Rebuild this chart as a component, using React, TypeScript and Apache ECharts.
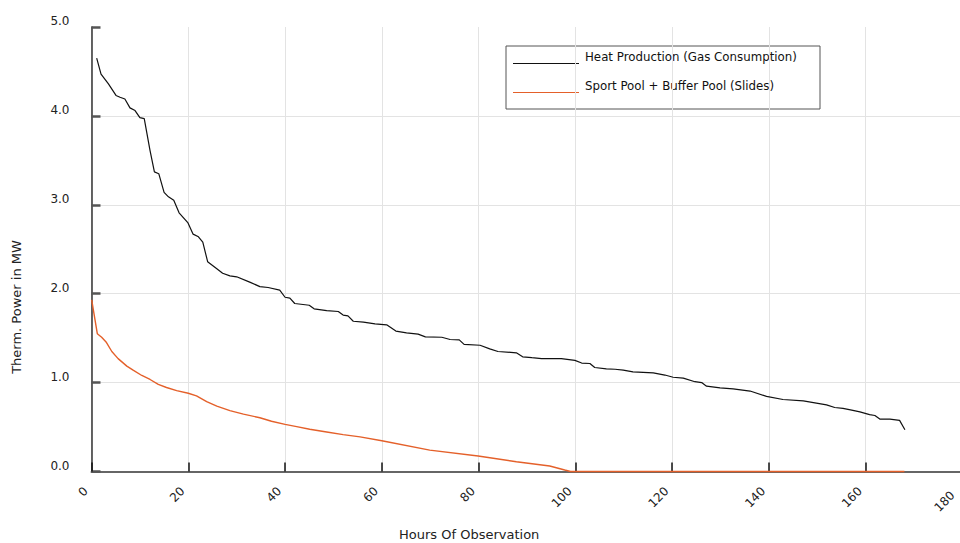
import React, { useEffect, useRef } from "react";
import * as echarts from "echarts";

const heatHours = [1.07, 1.97, 3.5, 5.06, 5.9, 6.9, 7.95, 9, 10, 10.9, 12.1, 13, 13.9, 15, 15.9, 17, 18.1, 19.9, 21, 22.1, 23, 24, 25.9, 27.1, 28.6, 30, 32.7, 34.8, 36.5, 38.9, 40, 41, 42, 45, 46, 48.6, 51, 52, 53, 54.1, 56.2, 58.6, 61, 62.9, 65.1, 67.5, 69, 72.4, 74.1, 76, 77, 80.3, 82.3, 84, 87.8, 89.1, 91, 93, 97.1, 99.9, 101.3, 103, 104, 106.4, 108.2, 109.9, 111.9, 116.1, 118.5, 120.2, 122.3, 124.7, 126.1, 127.1, 129.9, 132.6, 136.1, 139.5, 142.9, 147.1, 149.8, 151.9, 153.6, 155.3, 157.1, 158.8, 160.8, 161.9, 162.9, 165, 167, 168.1];
const heatValues = [4.65, 4.47, 4.36, 4.23, 4.21, 4.19, 4.09, 4.06, 3.98, 3.97, 3.61, 3.37, 3.35, 3.14, 3.09, 3.05, 2.91, 2.8, 2.67, 2.64, 2.58, 2.36, 2.28, 2.23, 2.2, 2.19, 2.13, 2.08, 2.07, 2.04, 1.96, 1.95, 1.89, 1.87, 1.83, 1.81, 1.8, 1.76, 1.75, 1.69, 1.68, 1.66, 1.65, 1.58, 1.56, 1.545, 1.515, 1.51, 1.485, 1.48, 1.43, 1.42, 1.38, 1.35, 1.335, 1.29, 1.28, 1.27, 1.27, 1.25, 1.22, 1.215, 1.17, 1.155, 1.15, 1.14, 1.12, 1.11, 1.085, 1.06, 1.05, 1.01, 1.0, 0.96, 0.94, 0.93, 0.905, 0.845, 0.81, 0.795, 0.77, 0.75, 0.72, 0.71, 0.69, 0.67, 0.64, 0.63, 0.59, 0.59, 0.575, 0.47];

const poolHours = [0.04, 1.2, 2.1, 3.1, 4.2, 5.5, 7.3, 8.6, 10.4, 12.1, 13.8, 15.5, 17.6, 20, 21.7, 23.8, 25.9, 28.6, 31.4, 34.8, 37.2, 40, 42.4, 45.1, 48.6, 52, 55.5, 60, 69.9, 79.9, 87.8, 94.7, 97.8, 99, 168];
const poolValues = [1.93, 1.55, 1.51, 1.45, 1.35, 1.27, 1.185, 1.14, 1.08, 1.035, 0.98, 0.945, 0.91, 0.88, 0.85, 0.785, 0.735, 0.685, 0.645, 0.605, 0.565, 0.53, 0.505, 0.475, 0.445, 0.415, 0.39, 0.346, 0.24, 0.175, 0.11, 0.062, 0.017, 0, 0];

const seriesNames = ["Heat Production (Gas Consumption)", "Sport Pool + Buffer Pool (Slides)"];
const xAxisTitle = "Hours Of Observation";
const yAxisTitle = "Therm. Power in MW";

const FONT = "DejaVu Sans";
const HEAT_COLOR = "#111111";
const POOL_COLOR = "#e4602a";
const TEXT_COLOR = "#222222";
const X_MAX = 180;

export default function App() {
  const ref = useRef<HTMLDivElement>(null);
  useEffect(() => {
    if (!ref.current) return;
    const chart = echarts.init(ref.current, undefined, { renderer: "svg" });
    const heatData = heatHours.map((h, i) => [h, heatValues[i]]);
    const poolData = poolHours.map((h, i) => [h, poolValues[i]]);
    chart.setOption({
      animation: false,
      backgroundColor: "#ffffff",
      grid: {
        left: 91.5,
        top: 27,
        width: 871,
        height: 444.5,
        containLabel: false,
        outerBoundsMode: "none",
      },
      xAxis: {
        type: "value",
        min: 0,
        max: X_MAX,
        interval: 20,
        axisLine: { show: true, onZero: false, lineStyle: { color: "#666666", width: 2 } },
        axisTick: { show: true, inside: true, length: 9, lineStyle: { color: "#111111", width: 1.5 } },
        axisLabel: {
          rotate: 45,
          margin: 12,
          padding: [0, 8, 0, 0],
          fontFamily: FONT,
          fontSize: 12,
          color: TEXT_COLOR,
          formatter: (v: number) => (v === X_MAX ? `{last|${v}}` : `${v}`),
          rich: {
            last: { fontFamily: FONT, fontSize: 12, color: TEXT_COLOR, padding: [0, 6, 0, 0] },
          },
        },
        splitLine: { show: true, lineStyle: { color: "#e3e3e3", width: 1 } },
      },
      yAxis: {
        type: "value",
        min: 0,
        max: 5,
        interval: 1,
        axisLine: { show: true, onZero: false, lineStyle: { color: "#333333", width: 1.5 } },
        axisTick: { show: true, inside: true, length: 9, lineStyle: { color: "#555555", width: 2.5 } },
        axisLabel: {
          margin: 22,
          fontFamily: FONT,
          fontSize: 12,
          color: TEXT_COLOR,
          verticalAlign: "bottom",
          formatter: (v: number) => v.toFixed(1),
        },
        splitLine: { show: true, showMaxLine: false, lineStyle: { color: "#e3e3e3", width: 1 } },
      },
      series: [
        {
          name: seriesNames[0],
          type: "line",
          data: heatData,
          showSymbol: false,
          symbol: "none",
          clip: false,
          lineStyle: { color: HEAT_COLOR, width: 1.2 },
          itemStyle: { color: HEAT_COLOR },
          z: 5,
        },
        {
          name: seriesNames[1],
          type: "line",
          data: poolData,
          showSymbol: false,
          symbol: "none",
          clip: false,
          lineStyle: { color: POOL_COLOR, width: 1.4 },
          itemStyle: { color: POOL_COLOR },
          z: 5,
        },
      ],
      graphic: [
        {
          type: "text",
          left: 399,
          top: 528,
          style: { text: xAxisTitle, fontFamily: FONT, fontSize: 13, fill: TEXT_COLOR },
        },
        {
          type: "text",
          x: 16,
          y: 307,
          rotation: Math.PI / 2,
          style: {
            text: yAxisTitle,
            fontFamily: FONT,
            fontSize: 13,
            fill: TEXT_COLOR,
            align: "center",
            verticalAlign: "middle",
          },
        },
        {
          type: "group",
          z: 10,
          children: [
            {
              type: "rect",
              shape: { x: 506, y: 46, width: 314, height: 63 },
              style: { fill: "#ffffff", stroke: "#555555", lineWidth: 1 },
            },
            {
              type: "line",
              shape: { x1: 513, y1: 63.5, x2: 579, y2: 63.5 },
              style: { stroke: HEAT_COLOR, lineWidth: 1.2 },
            },
            {
              type: "text",
              x: 585,
              y: 57,
              style: { text: seriesNames[0], fontFamily: FONT, fontSize: 11.8, fill: "#111111", verticalAlign: "middle" },
            },
            {
              type: "line",
              shape: { x1: 513, y1: 92.5, x2: 579, y2: 92.5 },
              style: { stroke: POOL_COLOR, lineWidth: 1.2 },
            },
            {
              type: "text",
              x: 585,
              y: 86,
              style: { text: seriesNames[1], fontFamily: FONT, fontSize: 11.8, fill: "#111111", verticalAlign: "middle" },
            },
          ],
        },
      ],
    });
    return () => chart.dispose();
  }, []);
  return (
    <div
      ref={ref}
      style={{ position: "fixed", left: 0, top: 0, width: 960, height: 543, background: "#fff" }}
    />
  );
}
